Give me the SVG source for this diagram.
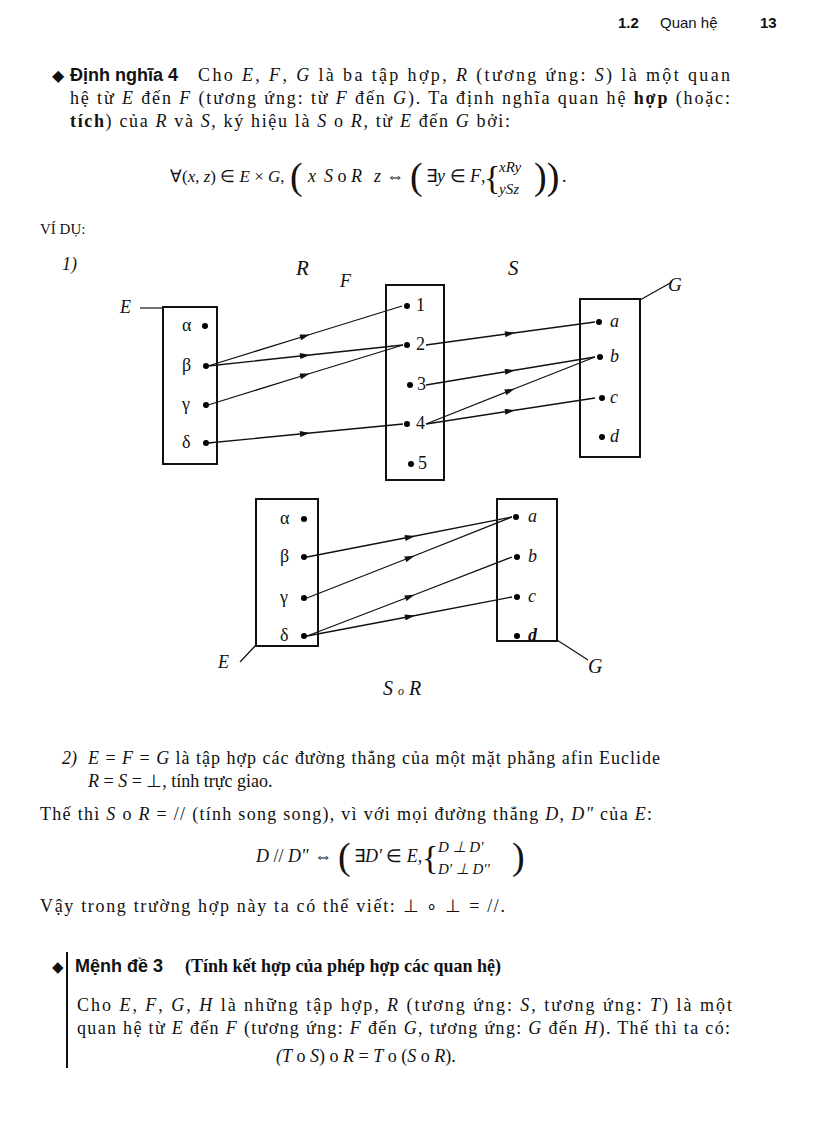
<svg xmlns="http://www.w3.org/2000/svg" width="816" height="1123" viewBox="0 0 816 1123">
<style>
text{font-family:"Liberation Serif",serif;font-size:18px;fill:#111}
.s{font-family:"Liberation Sans",Arial,sans-serif;font-weight:bold}
.i{font-style:italic}
.b{font-weight:bold}
.box{fill:#fff;stroke:#111;stroke-width:2}
.c{fill:none;stroke:#111;stroke-width:1.3;marker-mid:url(#ah)}
.lab{fill:none;stroke:#111;stroke-width:1.2}
.br{font-size:38px;font-weight:normal}
</style>
<defs>
<marker id="ah" viewBox="0 0 10 6" refX="5" refY="3" markerWidth="12" markerHeight="6" markerUnits="userSpaceOnUse" orient="auto"><path d="M0,0 L10,3 L0,6 z" fill="#111"/></marker>
</defs>
<rect width="816" height="1123" fill="#fff"/>
<text x="618" y="28" class="s" style="font-size:15px">1.2</text>
<text x="660" y="28" style="font-family:'Liberation Sans',sans-serif;font-size:15px">Quan hệ</text>
<text x="760" y="28" class="s" style="font-size:15px">13</text>

<text x="52" y="81" style="font-size:16px">◆</text>
<text x="70" y="81" class="s">Định nghĩa 4</text>
<text x="198" y="81" textLength="532" lengthAdjust="spacing">Cho <tspan class="i">E</tspan>, <tspan class="i">F</tspan>, <tspan class="i">G</tspan> là ba tập hợp, <tspan class="i">R</tspan> (tương ứng: <tspan class="i">S</tspan>) là một quan</text>
<text x="70" y="104" textLength="660" lengthAdjust="spacing">hệ từ <tspan class="i">E</tspan> đến <tspan class="i">F</tspan> (tương ứng: từ <tspan class="i">F</tspan> đến <tspan class="i">G</tspan>). Ta định nghĩa quan hệ <tspan class="b">hợp</tspan> (hoặc:</text>
<text x="70" y="127" textLength="440" lengthAdjust="spacing"><tspan class="b">tích</tspan>) của <tspan class="i">R</tspan> và <tspan class="i">S</tspan>, ký hiệu là <tspan class="i">S</tspan> ο <tspan class="i">R</tspan>, từ <tspan class="i">E</tspan> đến <tspan class="i">G</tspan> bởi:</text>

<text x="170" y="182" style="font-size:17px">∀(<tspan class="i">x</tspan>, <tspan class="i">z</tspan>) ∈ <tspan class="i">E</tspan> × <tspan class="i">G</tspan>,</text>
<text x="290" y="189" class="br">(</text>
<text x="308" y="182" class="i">x</text>
<text x="324" y="182"><tspan class="i">S</tspan> ο <tspan class="i">R</tspan></text>
<text x="374" y="182" class="i">z</text>
<text x="386" y="182">⇔</text>
<text x="410" y="189" class="br">(</text>
<text x="426" y="182">∃<tspan class="i">y</tspan> ∈ <tspan class="i">F</tspan>,</text>
<text x="484" y="189" style="font-size:34px">{</text>
<text x="499" y="172" class="i" style="font-size:15px">xRy</text>
<text x="499" y="194" class="i" style="font-size:15px">ySz</text>
<text x="534" y="189" class="br">))</text>
<text x="562" y="182">.</text>

<text x="40" y="234" style="font-size:15px">VÍ DỤ:</text>
<text x="62" y="270" class="i">1)</text>
<text x="296" y="275" class="i" style="font-size:21px">R</text>
<text x="340" y="287" class="i" style="font-size:18px">F</text>
<text x="508" y="275" class="i" style="font-size:21px">S</text>
<text x="668" y="291" class="i" style="font-size:19px">G</text>
<text x="120" y="313" class="i" style="font-size:18px">E</text>

<g id="E1"><path class="lab" d="M140,308 H164"/><rect class="box" x="163" y="307" width="54" height="157"/></g>
<g id="F1"><rect class="box" x="386" y="285" width="58" height="195"/></g>
<g id="G1"><path class="lab" d="M640,300 L672,282"/><rect class="box" x="580" y="299" width="60" height="158"/></g>
<g id="E1pts">
<text x="182" y="331">α</text><circle cx="205" cy="326" r="3"/>
<text x="182" y="371">β</text><circle cx="206" cy="366" r="3"/>
<text x="182" y="410">γ</text><circle cx="206" cy="405" r="3"/>
<text x="182" y="448">δ</text><circle cx="206" cy="443" r="3"/>
</g>
<g id="F1pts">
<circle cx="407" cy="306" r="3"/><text x="416" y="311">1</text>
<circle cx="407" cy="345" r="3"/><text x="416" y="350">2</text>
<circle cx="410" cy="385" r="3"/><text x="417" y="390">3</text>
<circle cx="407" cy="424" r="3"/><text x="416" y="429">4</text>
<circle cx="411" cy="464" r="3"/><text x="418" y="469">5</text>
</g>
<g id="G1pts">
<circle cx="599" cy="322" r="3"/><text x="610" y="327" class="i">a</text>
<circle cx="600" cy="357" r="3"/><text x="610" y="362" class="i">b</text>
<circle cx="602" cy="398" r="3"/><text x="610" y="403" class="i">c</text>
<circle cx="602" cy="437" r="3"/><text x="610" y="442" class="i">d</text>
</g>

<g id="E2"><path class="lab" d="M240,662 L256,645"/><rect class="box" x="256" y="499" width="62" height="147"/></g>
<g id="G2"><path class="lab" d="M557,640 L588,660"/><rect class="box" x="497" y="499" width="60" height="142"/></g>
<text x="218" y="668" class="i" style="font-size:18px">E</text>
<text x="588" y="673" class="i" style="font-size:20px">G</text>
<text x="383" y="695" class="i" style="font-size:20px">S <tspan style="font-size:12px">ο</tspan> R</text>
<g id="E2pts">
<text x="280" y="524">α</text><circle cx="304" cy="519" r="3"/>
<text x="280" y="562">β</text><circle cx="304" cy="557" r="3"/>
<text x="280" y="603">γ</text><circle cx="304" cy="598" r="3"/>
<text x="280" y="641">δ</text><circle cx="304" cy="636" r="3"/>
</g>
<g id="G2pts">
<circle cx="516" cy="517" r="3"/><text x="528" y="522" class="i">a</text>
<circle cx="517" cy="557" r="3"/><text x="528" y="562" class="i">b</text>
<circle cx="517" cy="597" r="3"/><text x="528" y="602" class="i">c</text>
<circle cx="517" cy="636" r="3"/><text x="528" y="641" class="i b">d</text>
</g>

<g id="connectors">
<polyline class="c" points="208,366 305,336 402,306"/>
<polyline class="c" points="208,366 305,355.5 403,345"/>
<polyline class="c" points="208,405 305,375 403,345"/>
<polyline class="c" points="208,443 305,433.5 403,424"/>
<polyline class="c" points="426,345 510,333.5 595,322"/>
<polyline class="c" points="426,385 510,371 595,357"/>
<polyline class="c" points="426,424 510,390.5 595,357"/>
<polyline class="c" points="426,424 510,411 595,398"/>
<polyline class="c" points="307,557 410,537 512,517"/>
<polyline class="c" points="307,598 410,557.5 512,517"/>
<polyline class="c" points="307,636 410,596.5 512,557"/>
<polyline class="c" points="307,636 410,616.5 512,597"/>
</g>

<text x="62" y="764" class="i">2)</text>
<text x="88" y="764" textLength="572" lengthAdjust="spacing"><tspan class="i">E</tspan> = <tspan class="i">F</tspan> = <tspan class="i">G</tspan> là tập hợp các đường thẳng của một mặt phẳng afin Euclide</text>
<text x="88" y="787"><tspan class="i">R</tspan> = <tspan class="i">S</tspan> = ⊥, tính trực giao.</text>
<text x="40" y="820" textLength="612" lengthAdjust="spacing">Thế thì <tspan class="i">S</tspan> ο <tspan class="i">R</tspan> = // (tính song song), vì với mọi đường thẳng <tspan class="i">D</tspan>, <tspan class="i">D"</tspan> của <tspan class="i">E</tspan>:</text>
<text x="256" y="862"><tspan class="i">D</tspan> // <tspan class="i">D"</tspan></text>
<text x="314" y="862">⇔</text>
<text x="338" y="869" class="br">(</text>
<text x="354" y="862">∃<tspan class="i">D'</tspan> ∈ <tspan class="i">E</tspan>,</text>
<text x="422" y="869" style="font-size:34px">{</text>
<text x="438" y="852" class="i" style="font-size:15px">D ⊥ D'</text>
<text x="438" y="874" class="i" style="font-size:15px">D' ⊥ D''</text>
<text x="512" y="869" class="br">)</text>
<text x="40" y="912" textLength="465" lengthAdjust="spacing">Vậy trong trường hợp này ta có thể viết:  ⊥ ∘ ⊥ = //.</text>

<text x="52" y="972" style="font-size:15px">◆</text>
<path d="M67,952 V1068" stroke="#111" stroke-width="2"/>
<text x="75" y="972"><tspan class="s" style="font-size:18px">Mệnh đề 3</tspan><tspan dx="22" class="b">(Tính kết hợp của phép hợp các quan hệ)</tspan></text>
<text x="77" y="1011" textLength="655" lengthAdjust="spacing">Cho <tspan class="i">E</tspan>, <tspan class="i">F</tspan>, <tspan class="i">G</tspan>, <tspan class="i">H</tspan> là những tập hợp, <tspan class="i">R</tspan> (tương ứng: <tspan class="i">S</tspan>, tương ứng: <tspan class="i">T</tspan>) là một</text>
<text x="77" y="1034" textLength="653" lengthAdjust="spacing">quan hệ từ <tspan class="i">E</tspan> đến <tspan class="i">F</tspan> (tương ứng: <tspan class="i">F</tspan> đến <tspan class="i">G</tspan>, tương ứng: <tspan class="i">G</tspan> đến <tspan class="i">H</tspan>). Thế thì ta có:</text>
<text x="276" y="1062"><tspan class="i">(T</tspan> ο <tspan class="i">S</tspan>) ο <tspan class="i">R</tspan> = <tspan class="i">T</tspan> ο (<tspan class="i">S</tspan> ο <tspan class="i">R</tspan>).</text>
</svg>
